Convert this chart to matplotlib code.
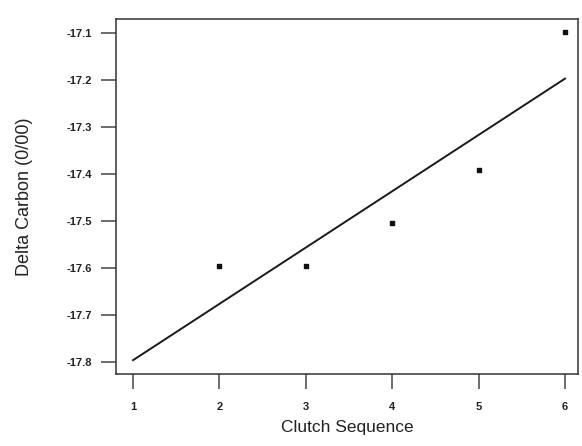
import numpy as np
import matplotlib
matplotlib.use("Agg")
import matplotlib.pyplot as plt

plt.rcParams['font.family'] = ['Liberation Sans', 'DejaVu Sans']

# clutch order and delta carbon of each clutch
clutch = [2, 3, 4, 5, 6]
delta_carbon = [-17.595, -17.595, -17.503, -17.392, -17.097]
x_ticks = [1, 2, 3, 4, 5, 6]
y_ticks = [-17.8, -17.7, -17.6, -17.5, -17.4, -17.3, -17.2, -17.1]

# least squares line drawn across the whole sequence
slope, intercept = np.polyfit(clutch, delta_carbon, 1)
fit_x = np.array([1, 6])
fit_y = slope * fit_x + intercept

fig = plt.figure(figsize=(5.82, 4.46), dpi=100)
ax = fig.add_axes([0.199, 0.161, 0.794, 0.796])

ax.plot(fit_x, fit_y, color='#1a1a1a', lw=1.4)
ax.scatter(clutch, delta_carbon, marker='s', s=9, color='#111111', zorder=3)

ax.set_xlim(0.8, 6.15)
ax.set_ylim(-17.826, -17.07)
ax.set_xticks(x_ticks)
ax.set_xticklabels([str(v) for v in x_ticks], fontweight='bold')
ax.set_yticks(y_ticks)
ax.set_yticklabels([f'{v:.1f}' for v in y_ticks], fontweight='bold')

for s in ax.spines.values():
    s.set_color('#333333')
    s.set_linewidth(1.1)
ax.tick_params(axis='both', direction='out', length=11, width=1.1,
               color='#444444', labelsize=8, labelcolor='#222222', pad=6)
ax.tick_params(axis='x', pad=9)

ax.set_xlabel('Clutch Sequence', fontsize=12.5, color='#222222', labelpad=6)
ax.set_ylabel('Delta Carbon (0/00)', fontsize=13, color='#222222', labelpad=24)

fig.savefig('out.png', dpi=100, facecolor='white')
